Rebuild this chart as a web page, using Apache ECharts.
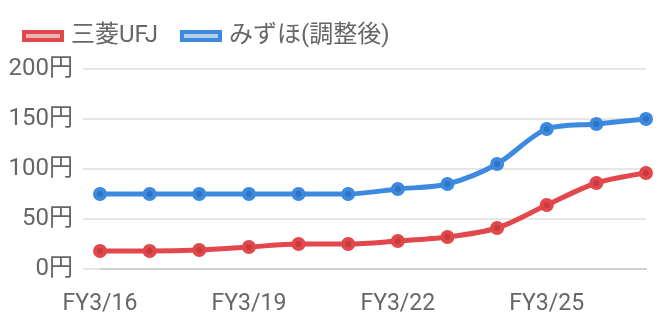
<!DOCTYPE html>
<html>
<head>
<meta charset="utf-8">
<script src="https://cdn.jsdelivr.net/npm/echarts@6/dist/echarts.min.js"></script>
<style>
  html, body { margin: 0; padding: 0; background: #fff; }
  #main { width: 660px; height: 330px; }
</style>
</head>
<body>
<div id="main"></div>
<script>
// 配当の推移
var years = ['FY3/16', 'FY3/17', 'FY3/18', 'FY3/19', 'FY3/20', 'FY3/21',
             'FY3/22', 'FY3/23', 'FY3/24', 'FY3/25', 'FY3/26', 'FY3/27'];
var mufg = [18, 18, 19, 22, 25, 25, 28, 32, 41, 64, 86, 96];
var mizuho = [75, 75, 75, 75, 75, 75, 80, 85, 105, 140, 145, 150];

var RED = '#e2474b';
var BLUE = '#3b8ae0';
var FONT = 'Roboto, "Noto Sans CJK JP", sans-serif';

var myChart = echarts.init(document.getElementById('main'));

function line(name, data, color, dark) {
  return {
    name: name,
    type: 'line',
    data: data,
    smooth: 0.3,
    symbol: 'circle',
    symbolSize: 10,
    lineStyle: { width: 5, color: color },
    itemStyle: { color: dark, borderColor: color, borderWidth: 4 },
    emphasis: { disabled: true }
  };
}

var option = {
  animation: false,
  legend: {
    left: 17,
    top: 19,
    itemWidth: 38,
    itemHeight: 8,
    itemGap: 22,
    icon: 'rect',
    textStyle: { fontSize: 24, color: '#666', fontFamily: FONT, padding: [0, 0, 0, 4] },
    data: [
      { name: '三菱UFJ', itemStyle: { color: '#e8b4b4', borderColor: RED, borderWidth: 4 } },
      { name: 'みずほ(調整後)', itemStyle: { color: '#b4cde8', borderColor: BLUE, borderWidth: 4 } }
    ]
  },
  grid: { left: 100, right: 14, top: 69, bottom: 61 },
  xAxis: {
    type: 'category',
    boundaryGap: false,
    data: years,
    axisLine: { lineStyle: { color: '#d0d0d0', width: 2 } },
    axisTick: { show: false },
    axisLabel: {
      interval: 2,
      margin: 24,
      fontSize: 23,
      color: '#666',
      fontFamily: FONT
    },
    splitLine: { show: false }
  },
  yAxis: {
    type: 'value',
    min: 0,
    max: 200,
    interval: 50,
    axisLine: { show: false },
    axisTick: { show: true, length: 17, lineStyle: { color: '#e6e6e6', width: 2 } },
    axisLabel: {
      margin: 27,
      fontSize: 24,
      color: '#666',
      fontFamily: FONT,
      formatter: '{value}円'
    },
    splitLine: { lineStyle: { color: '#e6e6e6', width: 2 } }
  },
  series: [
    line('三菱UFJ', mufg, RED, '#c73b3f'),
    line('みずほ(調整後)', mizuho, BLUE, '#2f74c0')
  ]
};

myChart.setOption(option);
</script>
</body>
</html>
